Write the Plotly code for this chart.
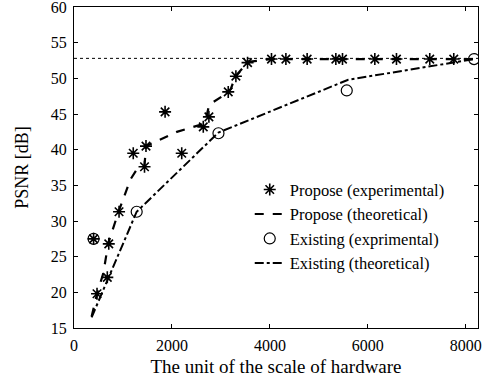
import plotly.graph_objects as go

# Propose (experimental)
prop_exp_x = [400, 470, 680, 710, 920, 1210, 1440, 1470, 1860, 2200, 2640, 2755, 3150, 3306, 3544,
              4033, 4327, 4761, 5347, 5483, 6143, 6585, 7265, 7755]
prop_exp_y = [27.5, 19.8, 22.1, 26.8, 31.3, 39.5, 37.6, 40.5, 45.3, 39.5, 43.2, 44.6, 48.1, 50.3, 52.2,
              52.7, 52.7, 52.7, 52.7, 52.7, 52.7, 52.7, 52.7, 52.7]

# Propose (theoretical)
prop_th_x = [360, 470, 600, 700, 900, 1150, 1280, 1440, 1470, 2100, 2640, 2700, 2760, 3100, 3200, 3300,
             3550, 4033, 8170]
prop_th_y = [16.6, 19.8, 22.7, 26.9, 31.1, 35.8, 37.2, 37.8, 40.5, 42.5, 43.6, 44.5, 46.3, 47.8, 48.5, 50.3,
             52.3, 52.7, 52.7]

# Existing (exprimental)
exist_exp_x = [400, 1280, 2950, 5570, 8170]
exist_exp_y = [27.5, 31.3, 42.3, 48.3, 52.7]

# Existing (theoretical)
exist_th_x = [360, 1280, 2950, 5600, 8170]
exist_th_y = [16.5, 31.3, 42.4, 49.8, 52.7]

# theoretical upper bound (dotted)
bound_x = [0, 8250]
bound_y = [52.8, 52.8]

x_ticks = [0, 2000, 4000, 6000, 8000]
y_ticks = [15, 20, 25, 30, 35, 40, 45, 50, 55, 60]

SERIF = "Liberation Serif"

fig = go.Figure()
fig.add_trace(go.Scatter(x=bound_x, y=bound_y, mode="lines", showlegend=False,
                         line=dict(color="black", width=1, dash="dot"), hoverinfo="skip"))
fig.add_trace(go.Scatter(x=prop_th_x, y=prop_th_y, mode="lines", name="Propose (theoretical)",
                         legendrank=2, line=dict(color="black", width=2.2, dash="dash")))
fig.add_trace(go.Scatter(x=exist_th_x, y=exist_th_y, mode="lines", name="Existing (theoretical)",
                         legendrank=4, line=dict(color="black", width=2, dash="dashdot")))
fig.add_trace(go.Scatter(x=prop_exp_x, y=prop_exp_y, mode="markers", name="Propose (experimental)",
                         legendrank=1,
                         marker=dict(symbol="asterisk-open", size=10, color="black",
                                     line=dict(color="black", width=1.6))))
fig.add_trace(go.Scatter(x=exist_exp_x, y=exist_exp_y, mode="markers", name="Existing (exprimental)",
                         legendrank=3,
                         marker=dict(symbol="circle-open", size=11, color="black",
                                     line=dict(color="black", width=1.2))))

axis_common = dict(showgrid=False, zeroline=False, showline=True, linecolor="black", linewidth=1,
                   mirror="ticks", ticks="inside", ticklen=4, tickcolor="black",
                   ticklabeloverflow="allow",
                   tickfont=dict(family=SERIF, size=16, color="black"))

fig.update_xaxes(range=[0, 8250], tickvals=x_ticks, ticktext=[str(v) for v in x_ticks],
                 ticklabelstandoff=3,
                 title=dict(text="The unit of the scale of hardware",
                            font=dict(family=SERIF, size=19, color="black"), standoff=6),
                 **axis_common)
fig.update_yaxes(range=[15, 60], tickvals=y_ticks, ticktext=[str(v) for v in y_ticks],
                 ticklabelstandoff=3,
                 title=dict(text="PSNR [dB]",
                            font=dict(family=SERIF, size=18, color="black"), standoff=17),
                 **axis_common)

fig.update_layout(
    width=488, height=384,
    margin=dict(l=74, r=10, t=7, b=56, autoexpand=False),
    paper_bgcolor="white", plot_bgcolor="white",
    font=dict(family=SERIF, color="black"),
    legend=dict(x=0.435, y=0.485, xanchor="left", yanchor="top",
                bgcolor="rgba(0,0,0,0)", borderwidth=0,
                font=dict(family=SERIF, size=16.5, color="black"),
                tracegroupgap=0, itemwidth=30),
)

fig.write_html("out.html", config={"displayModeBar": False},
               post_script="document.body.style.margin='0';")
